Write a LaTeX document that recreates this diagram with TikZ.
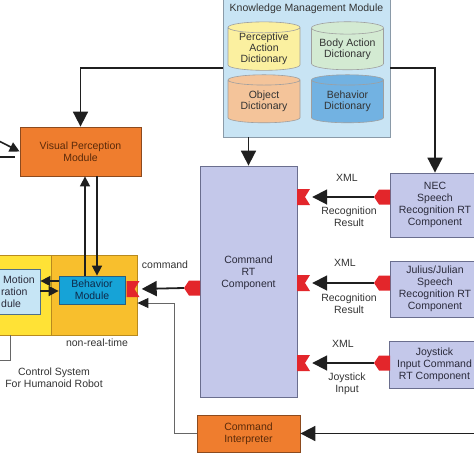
\documentclass[tikz,border=0pt]{standalone}
\usepackage{fontspec}
\setmainfont{Liberation Sans}
\usetikzlibrary{arrows.meta,shapes.geometric,positioning}
\definecolor{kmfill}{HTML}{C8E4F4}
\definecolor{kmdraw}{HTML}{8A9AA8}
\definecolor{dictyel}{HTML}{FBF0A0}
\definecolor{dictgrn}{HTML}{D3EAD2}
\definecolor{dictorg}{HTML}{F4C49A}
\definecolor{dictblu}{HTML}{72B2E2}
\definecolor{vporange}{HTML}{EF7D2E}
\definecolor{vpdraw}{HTML}{8C4A1E}
\definecolor{vptext}{HTML}{5A2A0A}
\definecolor{ylwlight}{HTML}{FFE236}
\definecolor{ylwdark}{HTML}{F8BF2D}
\definecolor{ylwdraw}{HTML}{B88A1E}
\definecolor{motfill}{HTML}{C6E5F5}
\definecolor{motdraw}{HTML}{50708A}
\definecolor{behfill}{HTML}{16A3D7}
\definecolor{behdraw}{HTML}{2A5F7F}
\definecolor{behtext}{HTML}{0E2A4A}
\definecolor{rtfill}{HTML}{C4C8EA}
\definecolor{rtdraw}{HTML}{6A6E8E}
\definecolor{rttext}{HTML}{2A2A3A}
\definecolor{portred}{HTML}{E3262B}

\begin{document}
\begin{tikzpicture}[x=1pt,y=-1pt,
    font=\fontsize{10.5}{12}\selectfont,
    orangebox/.style={draw=vpdraw, fill=vporange, line width=0.8pt, text=vptext,
      align=center, inner sep=0pt},
    rtbox/.style={draw=rtdraw, fill=rtfill, line width=0.8pt, text=rttext,
      align=center, inner sep=0pt},
    dict/.style={cylinder, shape border rotate=90, aspect=0.22, draw=gray!75,
      line width=0.6pt, minimum width=72pt, minimum height=48pt, align=center,
      inner sep=0pt, text=black!80, font=\fontsize{10.5}{11}\selectfont},
    lbl/.style={align=center, text=black!80},
    conn/.style={line width=1.8pt, draw=black!88, -{Triangle[length=15pt,width=15pt]}},
    smallconn/.style={line width=1.6pt, draw=black!88, -{Triangle[length=10pt,width=10pt]}},
    thinline/.style={line width=1pt, draw=black!60},
    thinarrow/.style={thinline, -{Triangle[length=11pt,width=10pt,color=black!88]}},
    inport/.style={minimum width=13pt, minimum height=16pt, inner sep=0pt,
      path picture={\fill[portred] (path picture bounding box.south west)
        -- (path picture bounding box.south east)
        -- ([xshift=-5pt]path picture bounding box.east)
        -- (path picture bounding box.north east)
        -- (path picture bounding box.north west) -- cycle;}},
    outport/.style={minimum width=16pt, minimum height=15pt, inner sep=0pt,
      path picture={\fill[portred] (path picture bounding box.west)
        -- ([xshift=5pt]path picture bounding box.north west)
        -- (path picture bounding box.north east)
        -- (path picture bounding box.south east)
        -- ([xshift=5pt]path picture bounding box.south west) -- cycle;}}]

  \useasboundingbox (0,0) rectangle (474,474);
  \clip (0,0) rectangle (474,474);

  % knowledge management module
  \node[draw=kmdraw, fill=kmfill, line width=0.8pt, minimum width=167pt,
        minimum height=138pt] (kmm) at (306.5,68) {};
  \node[text=black!80] (kmmtitle) at (306.5,9) {Knowledge Management Module};
  \node[dict, fill=dictyel] (pad) at (264,49) {Perceptive\\Action\\Dictionary};
  \node[dict, fill=dictgrn] (bad) at (347.5,49) {Body Action\\Dictionary};
  \node[dict, fill=dictorg] (objd) at (264,101.5) {Object\\Dictionary};
  \node[dict, fill=dictblu] (behd) at (347.5,101.5) {Behavior\\Dictionary};

  % control system for humanoid robot
  \node[orangebox, minimum width=121pt, minimum height=49pt] (vp) at (80.5,151.5)
    {Visual Perception\\Module};
  \node[draw=ylwdraw, fill=ylwlight, line width=0.8pt, minimum width=61pt,
        minimum height=80pt] (lpart) at (20.5,295) {};
  \node[draw=ylwdraw, fill=ylwdark, line width=0.8pt, minimum width=86pt,
        minimum height=80pt] (rtpart) at (94,295) {};
  \node[draw=motdraw, fill=motfill, line width=0.8pt, minimum width=80pt,
        minimum height=45pt] (motion) at (0,291.5) {};
  \node[align=left, anchor=west, inner sep=0pt, text=rttext] (motiontxt)
    at (1,292) {\hspace*{2pt}Motion\\ration\\dule};
  \node[draw=behdraw, fill=behfill, line width=0.8pt, minimum width=66pt,
        minimum height=28pt, align=center, inner sep=0pt, text=behtext]
    (beh) at (92,290) {Behavior\\Module};
  \node[inport] (behin) at (133,289) {};
  \node[lbl] (cmdlbl) at (165,265) {command};
  \node[lbl] (nrt) at (97,343) {non-real-time};
  \node[lbl] (ctrl) at (54,378) {Control System\\For Humanoid Robot};

  % RT components
  \node[rtbox, minimum width=97pt, minimum height=231pt] (cmd) at (248.5,281.5)
    {Command\\RT\\Component\\[8pt]};
  \node[outport] (cmdout) at (192,288) {};
  \node[inport] (cmdin1) at (303.5,197) {};
  \node[inport] (cmdin2) at (303.5,283) {};
  \node[inport] (cmdin3) at (303.5,363) {};
  \node[rtbox, minimum width=90pt, minimum height=64pt] (nec) at (435,205)
    {NEC\\Speech\\Recognition RT\\Component};
  \node[rtbox, minimum width=90pt, minimum height=56pt] (jul) at (435,289)
    {Julius/Julian\\Speech\\Recognition RT\\Component};
  \node[rtbox, minimum width=91pt, minimum height=47pt] (joy) at (434.5,364.5)
    {Joystick\\Input Command\\RT Component};
  \node[outport] (necout) at (382,197) {};
  \node[outport] (julout) at (382,283) {};
  \node[outport] (joyout) at (382,363) {};
  \node[orangebox, minimum width=103pt, minimum height=37pt] (ci) at (248.5,433.5)
    {Command\\Interpreter};

  % port labels
  \node[lbl] (xml1) at (347,178) {XML};
  \node[lbl] (rec1) at (349,217) {Recognition\\Result};
  \node[lbl] (xml2) at (345,263) {XML};
  \node[lbl] (rec2) at (349,304) {Recognition\\Result};
  \node[lbl] (xml3) at (343,344) {XML};
  \node[lbl] (joyin) at (347,384) {Joystick\\Input};

  % free ends
  \coordinate (visin) at (-5,139);
  \coordinate (visoff) at (-5,157);
  \coordinate (visend) at (15,157);
  \coordinate (sysout) at (-5,360);
  \coordinate (ciin) at (480,433.5);
  \coordinate (ciup) at (174,303);

  % connectors
  \draw[conn] (kmm.west) -| (vp.north);
  \draw[conn] (kmm.east) -| (nec.north);
  \draw[conn] (kmm.south -| cmd.north) -- (cmd.north);
  \draw[smallconn] (visin) -- (vp.west);
  \draw[line width=1.6pt, draw=black!88] (visoff) -- (visend);
  \draw[smallconn] ([xshift=-7pt]beh.north) -- ([xshift=4.5pt]vp.south);
  \draw[smallconn] ([xshift=16.5pt]vp.south) -- ([xshift=5pt]beh.north);
  \draw[smallconn] ([yshift=9pt]beh.west) -- ([yshift=10.5pt]motion.east);
  \draw[smallconn] ([yshift=0.5pt]motion.east) -- ([yshift=-1pt]beh.west);
  \draw[conn, shorten >=2pt] (cmdout.west) -- (behin.east);
  \draw[conn, shorten >=2pt] (necout.west) -- (cmdin1.east);
  \draw[conn, shorten >=2pt] (julout.west) -- (cmdin2.east);
  \draw[conn, shorten >=2pt] (joyout.west) -- (cmdin3.east);
  \draw[thinarrow] (ci.west) -| (ciup) -- (ciup -| rtpart.east);
  \draw[conn] (ciin) -- (ci.east);
  \draw[thinline] ([xshift=-10.5pt]lpart.south) |- (sysout);

\end{tikzpicture}
\end{document}
